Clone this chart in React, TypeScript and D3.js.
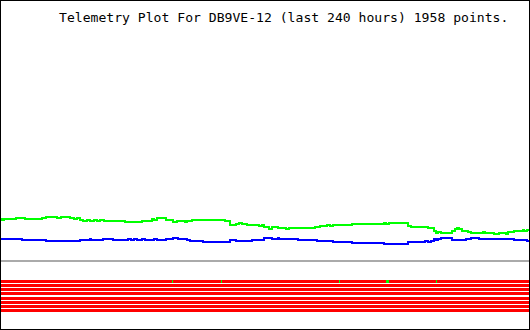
import React from "react";
import * as d3 from "d3";

// ---- data (hours since start of 240h window, value in raw telemetry units) ----
const TITLE = "Telemetry Plot For DB9VE-12 (last 240 hours) 1958 points.";

const greenT = [0, 0.45, 1.4, 6.8, 10.9, 18.6, 20.5, 25.5, 27.3, 31.4, 33.2, 34.5, 35.9, 37.3, 39.1, 40.5, 42.3, 43.6, 45.0, 46.8, 56.4, 64.1, 68.6, 69.5, 70.9, 75.0, 78.2, 80.2, 83.6, 84.5, 86.8, 101.8, 104.1, 106.8, 108.2, 109.5, 111.8, 117.3, 118.6, 119.5, 121.8, 123.2, 125.9, 129.5, 130.9, 142.7, 145.0, 148.2, 149.5, 150.9, 159.5, 174.1, 175.2, 176.4, 185.0, 186.4, 194.1, 196.8, 197.7, 198.6, 200.0, 205.0, 206.4, 207.3, 208.2, 209.5, 212.3, 213.6, 219.1, 220.0, 224.1, 226.4, 229.5, 230.5, 233.2, 237.3, 237.7, 239.1];
const greenV = [40, 39, 40, 41, 40, 41, 42, 41, 42, 41, 40, 41, 39, 38, 39, 38, 39, 38, 39, 38, 37, 38, 40, 39, 41, 39, 37, 38, 37, 38, 39, 38, 34, 35, 36, 35, 34, 33, 34, 32, 30, 32, 31, 30, 31, 32, 33, 34, 33, 34, 35, 36, 35, 36, 33, 32, 31, 28, 26, 27, 26, 28, 30, 31, 30, 28, 27, 26, 27, 26, 25, 26, 25, 27, 28, 29, 28, 29];

const blueT = [0, 9.5, 20.5, 35.9, 40.5, 40.9, 46.4, 50.9, 57.7, 59.1, 60.5, 62.0, 64.1, 65.5, 69.5, 70.9, 75.0, 78.2, 80.5, 84.5, 85.9, 91.8, 104.1, 106.8, 114.1, 119.5, 123.2, 125.9, 126.4, 135.0, 143.6, 150.9, 159.5, 174.1, 185.0, 192.7, 194.1, 195.5, 196.8, 197.7, 198.6, 200.0, 205.0, 211.4, 213.6, 217.3, 233.2, 239.1];
const blueV = [20, 19, 18, 19, 20, 19, 20, 19, 20, 19, 20, 19, 20, 19, 20, 19, 20, 21, 20, 19, 18, 17, 19, 18, 19, 21, 20, 21, 20, 19, 18, 17, 16, 15, 17, 18, 17, 18, 20, 19, 20, 21, 19, 20, 21, 20, 19, 18];

const bitChannels = ["B1", "B2", "B3", "B4", "B5", "B6", "B7", "B8"];
// times (hours) where bit B1 was set, with duration in hours
const bitOnT = [77.7, 100.0, 153.6, 175.0, 197.7];
const bitOnDur = [0.4, 0.4, 0.4, 1.36, 0.4];

const W = 530;
const H = 330;

export default function App() {
  const x = d3.scaleLinear().domain([0, 240]).range([1, 529]);
  const y = d3.scaleLinear().domain([0, 258]).range([259, 1]);
  const band = d3.scaleBand().domain(bitChannels).range([280, 312]).paddingInner(0.25).paddingOuter(0);

  type P = { t: number; v: number };
  const mk = (ts: number[], vs: number[]): P[] => {
    const pts = ts.map((t, i) => ({ t, v: vs[i] }));
    pts.push({ t: 240, v: vs[vs.length - 1] });
    return pts;
  };
  const line = d3
    .line<P>()
    .x((d) => x(d.t))
    .y((d) => Math.round(y(d.v)))
    .curve(d3.curveStepAfter);

  const green = line(mk(greenT, greenV)) || "";
  const blue = line(mk(blueT, blueV)) || "";

  const bh = 3;

  return (
    <svg
      width={W}
      height={H}
      style={{ position: "fixed", left: 0, top: 0, background: "#fff", display: "block" }}
      shapeRendering="crispEdges"
    >
      <rect x={0} y={0} width={W} height={H} fill="#fff" />
      <text
        x={59}
        y={21.5}
        fontFamily="'DejaVu Sans Mono', monospace"
        fontSize={13.1}
        fill="#000"
        textRendering="optimizeSpeed"
      >
        {TITLE}
      </text>
      <path d={green} fill="none" stroke="#00ff00" strokeWidth={2} />
      <path d={blue} fill="none" stroke="#0000ff" strokeWidth={2} />
      <rect x={1} y={260} width={528} height={2} fill="#aaaaaa" />
      {bitChannels.map((c) => (
        <rect key={c} x={1} y={Math.round(band(c) as number)} width={528} height={bh} fill="#ff0000" />
      ))}
      {bitOnT.map((t, i) => (
        <rect
          key={i}
          x={Math.round(x(t))}
          y={Math.round(band(bitChannels[0]) as number)}
          width={Math.max(1, Math.round(x(t + bitOnDur[i]) - x(t)))}
          height={bh}
          fill="#00ff00"
        />
      ))}
      <rect x={0.5} y={0.5} width={W - 1} height={H - 1} fill="none" stroke="#000" strokeWidth={1} />
    </svg>
  );
}
